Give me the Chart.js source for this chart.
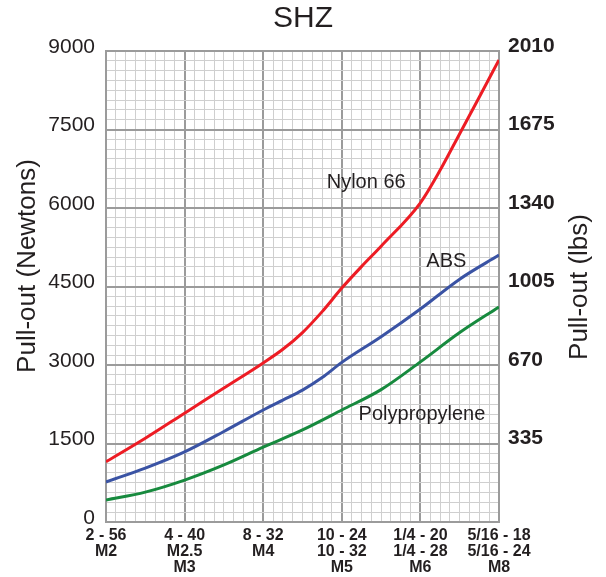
<!DOCTYPE html>
<html><head><meta charset="utf-8">
<script src="https://cdn.jsdelivr.net/npm/chart.js@4"></script>
<style>html,body{margin:0;padding:0;background:#fff}</style>
</head><body>
<canvas id="c" width="606" height="577"></canvas>
<script>
// ---- data ----
const categories = [["2 - 56","M2"],["4 - 40","M2.5","M3"],["8 - 32","M4"],["10 - 24","10 - 32","M5"],["1/4 - 20","1/4 - 28","M6"],["5/16 - 18","5/16 - 24","M8"]];
const newtonTicks = [0,1500,3000,4500,6000,7500,9000];
const lbsTicks = [335,670,1005,1340,1675,2010];

const nylonPos = [0,0.5,1,1.5,2,2.25,2.5,2.75,3,3.25,3.5,4,4.25,4.5,4.75,5];
const nylonVal = [1150,1600,2080,2560,3040,3300,3620,4020,4470,4880,5270,6100,6720,7420,8120,8830];
const absPos = [0,0.5,1,1.5,2,2.25,2.5,2.75,3,3.5,4,4.5,5];
const absVal = [765,1030,1340,1730,2140,2330,2520,2760,3050,3540,4070,4640,5100];
const ppPos = [0,0.5,1,1.5,2,2.5,3,3.5,4,4.5,5];
const ppVal = [420,570,800,1090,1430,1760,2140,2530,3060,3620,4110];

const seriesNames = ["Nylon 66","ABS","Polypropylene"];
const labelPos = [3.31, 4.33, 4.02];
const labelVal = [6480, 4970, 2045];

// ---- build ----
const toPts = (xs, ys) => xs.map((x, i) => ({x, y: ys[i]}));
const MAJOR = '#9b9b9b', MINOR = '#cfcfcf', TXT = '#231f20';
const FONT = '"Liberation Sans", Arial, sans-serif';
const isMajorX = v => Math.abs(v - Math.round(v)) < 1e-6;
const isMajorY = v => newtonTicks.some(t => Math.abs(t - v) < 1e-6);

const textPlugin = {
  id: 'texts',
  afterDatasetsDraw(chart) {
    const {ctx, scales} = chart;
    ctx.save();
    ctx.fillStyle = TXT;
    ctx.font = '20px ' + FONT;
    ctx.textAlign = 'center';
    ctx.textBaseline = 'middle';
    seriesNames.forEach((n, i) => {
      ctx.fillText(n, scales.x.getPixelForValue(labelPos[i]), scales.y.getPixelForValue(labelVal[i]));
    });
    ctx.restore();
  },
  afterDraw(chart) {
    const {ctx} = chart;
    const drawV = (txt, x, y) => {
      ctx.save();
      ctx.fillStyle = TXT;
      ctx.font = '26px ' + FONT;
      ctx.textAlign = 'center';
      ctx.textBaseline = 'middle';
      ctx.translate(x, y); ctx.rotate(-Math.PI/2);
      ctx.fillText(txt, 0, 0);
      ctx.restore();
    };
    drawV('Pull-out (Newtons)', 28, 266);
    drawV('Pull-out (lbs)', 580, 287);
  }
};

new Chart(document.getElementById('c'), {
  type: 'line',
  data: {
    datasets: [
      {label: seriesNames[0], data: toPts(nylonPos, nylonVal), borderColor: '#ed1c24', yAxisID: 'y'},
      {label: seriesNames[1], data: toPts(absPos, absVal), borderColor: '#3a53a4', yAxisID: 'y'},
      {label: seriesNames[2], data: toPts(ppPos, ppVal), borderColor: '#178a3e', yAxisID: 'y'}
    ]
  },
  options: {
    responsive: false,
    animation: false,
    devicePixelRatio: 1,
    layout: {padding: 0},
    elements: {
      line: {borderWidth: 3, cubicInterpolationMode: 'monotone', fill: false},
      point: {radius: 0}
    },
    plugins: {
      legend: {display: false},
      tooltip: {enabled: false},
      title: {
        display: true, text: 'SHZ', color: TXT,
        font: {family: FONT, size: 30, weight: 'normal', lineHeight: 1.2},
        padding: {top: 1, bottom: 14}
      }
    },
    scales: {
      x: {
        type: 'linear', min: 0, max: categories.length - 1,
        afterFit: s => { s.height = 55; },
        grid: {
          drawTicks: false,
          color: c => isMajorX(c.tick.value) ? MAJOR : MINOR,
          lineWidth: c => isMajorX(c.tick.value) ? 2 : 1
        },
        border: {display: true, color: MAJOR, width: 2},
        ticks: {
          stepSize: 0.125, autoSkip: false, maxRotation: 0, minRotation: 0, padding: 6,
          color: TXT,
          font: {family: FONT, size: 16, weight: 'bold', lineHeight: 1.0},
          callback: v => isMajorX(v) ? categories[Math.round(v)] : ''
        }
      },
      y: {
        type: 'linear', position: 'left', min: 0, max: newtonTicks[newtonTicks.length - 1],
        afterFit: s => { s.width = 106; },
        grid: {
          drawTicks: false,
          color: c => isMajorY(c.tick.value) ? MAJOR : MINOR,
          lineWidth: c => isMajorY(c.tick.value) ? 2 : 1
        },
        border: {display: true, color: MAJOR, width: 2},
        ticks: {
          stepSize: 187.5, autoSkip: false, padding: 11, labelOffset: -4,
          color: TXT,
          font: {family: FONT, size: 21, weight: 'normal'},
          callback: v => isMajorY(v) ? String(v) : ''
        }
      },
      y2: {
        type: 'linear', position: 'right', min: 0, max: lbsTicks[lbsTicks.length - 1],
        afterFit: s => { s.width = 107; },
        grid: {drawOnChartArea: false, drawTicks: false},
        border: {display: true, color: MAJOR, width: 2},
        ticks: {
          stepSize: lbsTicks[0], autoSkip: false, padding: 9, labelOffset: -5,
          color: TXT,
          font: {family: FONT, size: 21, weight: 'bold'},
          callback: v => lbsTicks.includes(v) ? String(v) : ''
        }
      }
    }
  },
  plugins: [textPlugin]
});
</script>
</body></html>
